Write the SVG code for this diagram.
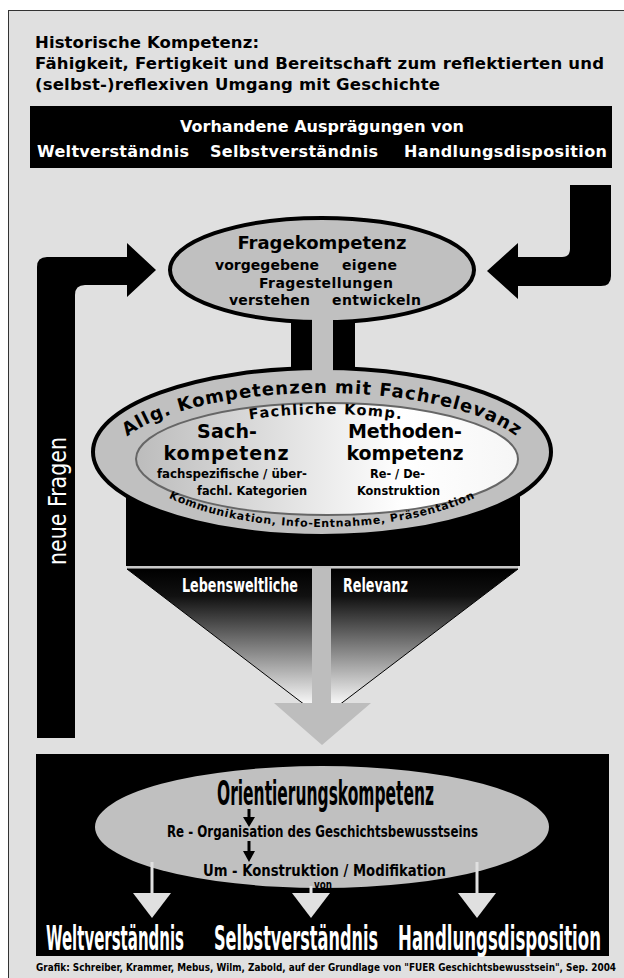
<svg xmlns="http://www.w3.org/2000/svg" width="624" height="978" viewBox="0 0 624 978">
<defs>
<style>
.b{font-family:"DejaVu Sans","Verdana",sans-serif;font-weight:bold;}
.n{font-family:"Liberation Sans Narrow","DejaVu Sans Condensed","Liberation Sans",sans-serif;font-weight:bold;}
.w{fill:#ffffff;}
.k{fill:#000000;}
</style>
<linearGradient id="inner" x1="0" y1="0" x2="1" y2="0">
<stop offset="0" stop-color="#bcbcbc"/>
<stop offset="0.7" stop-color="#ffffff"/>
<stop offset="1" stop-color="#f6f6f6"/>
</linearGradient>
<linearGradient id="tri" gradientUnits="userSpaceOnUse" x1="0" y1="569" x2="0" y2="705">
<stop offset="0" stop-color="#000"/>
<stop offset="0.2" stop-color="#111"/>
<stop offset="1" stop-color="#fafafa"/>
</linearGradient>
<path id="arcTop" d="M 110 465 A 212 72 0 0 1 534 465"/>
<path id="arcFach" d="M 150 470 A 176 56 0 0 1 502 470"/>
<path id="arcBot" d="M 122 445 A 200 82 0 0 0 522 445"/>
</defs>

<rect x="8.5" y="10.5" width="620" height="975" fill="#e0e0e0" stroke="#333" stroke-width="1"/>

<g id="title">
<text class="b" x="35" y="48" font-size="16.5" textLength="224">Historische Kompetenz:</text>
<text class="b" x="35" y="69" font-size="16.5" textLength="569">Fähigkeit, Fertigkeit und Bereitschaft zum reflektierten und</text>
<text class="b" x="35" y="90" font-size="16.5" textLength="405">(selbst-)reflexiven Umgang mit Geschichte</text>
</g>

<g id="vorhandene">
<rect x="30" y="106" width="582" height="62" fill="#000"/>
<text class="b w" x="322" y="132" font-size="16" text-anchor="middle">Vorhandene Ausprägungen von</text>
<text class="b w" x="37" y="157" font-size="16" textLength="152">Weltverständnis</text>
<text class="b w" x="210" y="157" font-size="16" textLength="168">Selbstverständnis</text>
<text class="b w" x="404" y="157" font-size="16" textLength="203">Handlungsdisposition</text>
</g>

<g id="connectors">
<path id="right-hook" d="M 570 185 L 611 185 L 611 276 Q 611 286 601 286 L 518 286 L 518 299 L 487 271 L 518 243 L 518 257 L 562 257 Q 570 257 570 249 Z" fill="#000"/>
<path id="left-hook" d="M 37 738 L 37 267 Q 37 257 47 257 L 127 257 L 127 243 L 156 270 L 127 297 L 127 285 L 85 285 Q 75 285 75 295 L 75 738 Z" fill="#000"/>
<path id="stem-top" d="M 291 318 L 355 318 L 355 376 L 291 376 Z" fill="#000"/>
<polygon id="relevance-funnel" points="127,569 518,569 322,718" fill="url(#tri)" stroke="#000" stroke-width="1"/>
<line x1="127" y1="567" x2="518" y2="567" stroke="#c8c8c8" stroke-width="2"/>
<rect x="312" y="566" width="19" height="138" fill="#bdbdbd"/>
<polygon points="274,703 371,703 322,745" fill="#bdbdbd"/>
</g>

<g id="neue-fragen">
<text class="n w" style="font-weight:normal" transform="translate(66 565) rotate(-90)" font-size="24" textLength="128" lengthAdjust="spacingAndGlyphs">neue Fragen</text>
</g>

<g id="fragekompetenz">
<ellipse cx="322" cy="270" rx="152" ry="52" fill="#c0c0c0" stroke="#000" stroke-width="4"/>
<text class="b" x="322" y="249" font-size="18" text-anchor="middle">Fragekompetenz</text>
<text class="b" x="215" y="270" font-size="14" textLength="104">vorgegebene</text>
<text class="b" x="342" y="270" font-size="14" textLength="55">eigene</text>
<text class="b" x="259" y="288" font-size="14" textLength="134">Fragestellungen</text>
<text class="b" x="229" y="305" font-size="14" textLength="81">verstehen</text>
<text class="b" x="332" y="305" font-size="14" textLength="89">entwickeln</text>
</g>

<g id="allg-kompetenzen">
<rect x="126" y="452" width="394" height="114" fill="#000"/>
<ellipse cx="322" cy="452" rx="229" ry="84" fill="#c0c0c0" stroke="#000" stroke-width="4"/>
<rect x="312" y="318" width="21" height="54" fill="#c0c0c0"/>
<text class="b" font-size="18" letter-spacing="1"><textPath href="#arcTop" startOffset="50%" text-anchor="middle">Allg. Kompetenzen mit Fachrelevanz</textPath></text>
<ellipse cx="327" cy="459" rx="191" ry="56" fill="url(#inner)" stroke="#666" stroke-width="2"/>
<text class="b" font-size="14.5" letter-spacing="1.3"><textPath href="#arcFach" startOffset="50%" text-anchor="middle">Fachliche Komp.</textPath></text>
<text class="b" font-size="11" letter-spacing="0.7"><textPath href="#arcBot" startOffset="50%" text-anchor="middle">Kommunikation, Info-Entnahme, Präsentation</textPath></text>
<text class="b" x="227" y="438" font-size="19" text-anchor="middle" textLength="60">Sach-</text>
<text class="b" x="226" y="460" font-size="19" text-anchor="middle" textLength="125">kompetenz</text>
<text class="b" x="405" y="438" font-size="19" text-anchor="middle" textLength="114">Methoden-</text>
<text class="b" x="405" y="460" font-size="19" text-anchor="middle" textLength="117">kompetenz</text>
<text class="n" x="157" y="478" font-size="13" textLength="150" lengthAdjust="spacingAndGlyphs">fachspezifische / über-</text>
<text class="n" x="197" y="495" font-size="13" textLength="110" lengthAdjust="spacingAndGlyphs">fachl. Kategorien</text>
<text class="n" x="370" y="478" font-size="13" textLength="55" lengthAdjust="spacingAndGlyphs">Re- / De-</text>
<text class="n" x="357" y="495" font-size="13" textLength="83" lengthAdjust="spacingAndGlyphs">Konstruktion</text>
</g>

<g id="lebensweltliche-relevanz">
<text class="n w" x="182" y="592" font-size="19" textLength="116" lengthAdjust="spacingAndGlyphs">Lebensweltliche</text>
<text class="n w" x="343" y="592" font-size="19" textLength="65" lengthAdjust="spacingAndGlyphs">Relevanz</text>
</g>

<g id="orientierung">
<rect x="36" y="754" width="573" height="202" fill="#000"/>
<ellipse cx="322" cy="827" rx="227" ry="61" fill="#c0c0c0"/>
<text class="n" x="217" y="805" font-size="34" textLength="217" lengthAdjust="spacingAndGlyphs">Orientierungskompetenz</text>
<line x1="249" y1="809" x2="249" y2="819" stroke="#000" stroke-width="3"/>
<polygon points="243,817 255,817 249,827" fill="#000"/>
<text class="n" x="167" y="837" font-size="15" textLength="311" lengthAdjust="spacingAndGlyphs">Re - Organisation des Geschichtsbewusstseins</text>
<line x1="249" y1="841" x2="249" y2="853" stroke="#000" stroke-width="3"/>
<polygon points="243,851 255,851 249,862" fill="#000"/>
<text class="n" x="203" y="876" font-size="15" textLength="243" lengthAdjust="spacingAndGlyphs">Um - Konstruktion / Modifikation</text>
<text class="n" x="314" y="889" font-size="13" textLength="18" lengthAdjust="spacingAndGlyphs">von</text>
<g fill="#e0e0e0" stroke="#e0e0e0">
<line x1="152" y1="862" x2="152" y2="894" stroke-width="3"/>
<polygon points="133,893 171,893 152,918" stroke="none"/>
<line x1="311" y1="886" x2="311" y2="894" stroke-width="3"/>
<polygon points="292,893 330,893 311,918" stroke="none"/>
<line x1="477" y1="862" x2="477" y2="894" stroke-width="3"/>
<polygon points="458,893 496,893 477,918" stroke="none"/>
</g>
<text class="n w" x="46" y="950" font-size="33" textLength="138" lengthAdjust="spacingAndGlyphs">Weltverständnis</text>
<text class="n w" x="214" y="950" font-size="33" textLength="164" lengthAdjust="spacingAndGlyphs">Selbstverständnis</text>
<text class="n w" x="398" y="950" font-size="33" textLength="203" lengthAdjust="spacingAndGlyphs">Handlungsdisposition</text>
</g>

<g id="credit">
<text class="n" x="36" y="971" font-size="11" textLength="580" lengthAdjust="spacingAndGlyphs">Grafik: Schreiber, Krammer, Mebus, Wilm, Zabold, auf der Grundlage von "FUER Geschichtsbewusstsein", Sep. 2004</text>
</g>
</svg>
